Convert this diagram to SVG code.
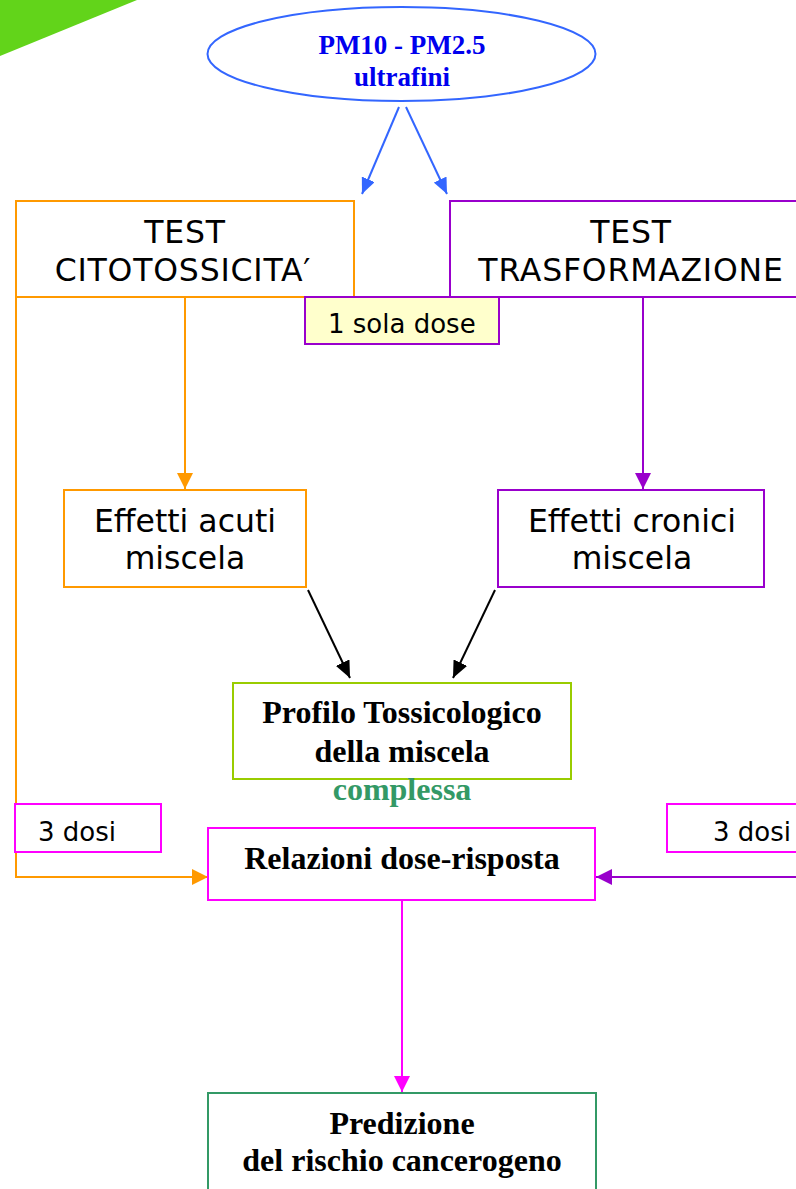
<svg xmlns="http://www.w3.org/2000/svg" width="796" height="1189" viewBox="0 0 796 1189">
<style>
.box{fill:#ffffff;stroke-width:2}
.sans{font-family:"DejaVu Sans",Verdana,sans-serif;fill:#000}
.serif{font-family:"Liberation Serif","Times New Roman",serif;font-weight:bold;fill:#000}
.big{font-size:31.5px}
.ttl{letter-spacing:0.8px}
.mid{font-size:26px}
.ser32{font-size:32px}
.ln{fill:none;stroke-width:2}
</style>
<defs>
<marker id="ab" viewBox="0 0 16 14" refX="16" refY="7" markerWidth="16" markerHeight="14" orient="auto" markerUnits="userSpaceOnUse"><path d="M0,0 L16,7 L0,14 z" fill="#3366ff"/></marker>
<marker id="ao" viewBox="0 0 16 16" refX="16" refY="8" markerWidth="16" markerHeight="16" orient="auto" markerUnits="userSpaceOnUse"><path d="M0,0 L16,8 L0,16 z" fill="#ff9900"/></marker>
<marker id="ap" viewBox="0 0 16 16" refX="16" refY="8" markerWidth="16" markerHeight="16" orient="auto" markerUnits="userSpaceOnUse"><path d="M0,0 L16,8 L0,16 z" fill="#9900cc"/></marker>
<marker id="ak" viewBox="0 0 17 15" refX="17" refY="7.5" markerWidth="17" markerHeight="15" orient="auto" markerUnits="userSpaceOnUse"><path d="M0,0 L17,7.5 L0,15 z" fill="#000"/></marker>
<marker id="am" viewBox="0 0 16 16" refX="16" refY="8" markerWidth="16" markerHeight="16" orient="auto" markerUnits="userSpaceOnUse"><path d="M0,0 L16,8 L0,16 z" fill="#ff00ff"/></marker>
</defs>
<polygon points="0,0 137,0 0,56" fill="#62d41a"/>
<g id="connectors">
<line class="ln" x1="399" y1="107" x2="362" y2="194" stroke="#3366ff" marker-end="url(#ab)"/>
<line class="ln" x1="406" y1="107" x2="447" y2="194" stroke="#3366ff" marker-end="url(#ab)"/>
<line class="ln" x1="185" y1="297" x2="185" y2="489" stroke="#ff9900" marker-end="url(#ao)"/>
<polyline class="ln" points="16,297 16,877 208,877" stroke="#ff9900" marker-end="url(#ao)"/>
<line class="ln" x1="643" y1="297" x2="643" y2="489" stroke="#9900cc" marker-end="url(#ap)"/>
<line class="ln" x1="800" y1="877" x2="596" y2="877" stroke="#9900cc" marker-end="url(#ap)"/>
<line class="ln" x1="308" y1="590" x2="350" y2="678" stroke="#000" marker-end="url(#ak)"/>
<line class="ln" x1="495" y1="590" x2="453" y2="678" stroke="#000" marker-end="url(#ak)"/>
<line class="ln" x1="402" y1="900" x2="402" y2="1092" stroke="#ff00ff" marker-end="url(#am)"/>
</g>
<g id="pm">
<ellipse cx="401.5" cy="54" rx="194" ry="47" fill="#fff" stroke="#3366ff" stroke-width="2"/>
<text class="serif" x="402" y="54" font-size="27" text-anchor="middle" style="fill:#0000ee">PM10 - PM2.5</text>
<text class="serif" x="402" y="86" font-size="27" text-anchor="middle" style="fill:#0000ee">ultrafini</text>
</g>
<g id="citotossicita">
<rect class="box" x="16" y="201" width="338" height="96" stroke="#ff9900"/>
<text class="sans big ttl" x="185" y="243" text-anchor="middle">TEST</text>
<text class="sans big ttl" x="183" y="281" text-anchor="middle">CITOTOSSICITA′</text>
</g>
<g id="trasformazione">
<rect class="box" x="450" y="201" width="360" height="96" stroke="#9900cc"/>
<text class="sans big ttl" x="631" y="243" text-anchor="middle">TEST</text>
<text class="sans big ttl" x="631" y="281" text-anchor="middle">TRASFORMAZIONE</text>
</g>
<g id="sola-dose">
<rect x="305" y="297" width="194" height="47" fill="#ffffcc" stroke="#9900cc" stroke-width="2"/>
<text class="sans mid" x="328" y="333">1 sola dose</text>
</g>
<g id="acuti">
<rect class="box" x="64" y="490" width="242" height="97" stroke="#ff9900"/>
<text class="sans big" x="185" y="532" text-anchor="middle">Effetti acuti</text>
<text class="sans big" x="185" y="569" text-anchor="middle">miscela</text>
</g>
<g id="cronici">
<rect class="box" x="498" y="490" width="266" height="97" stroke="#9900cc"/>
<text class="sans big" x="632" y="532" text-anchor="middle">Effetti cronici</text>
<text class="sans big" x="632" y="569" text-anchor="middle">miscela</text>
</g>
<g id="profilo">
<rect class="box" x="233" y="683" width="338" height="96" stroke="#99cc00"/>
<text class="serif ser32" x="402" y="723" text-anchor="middle">Profilo Tossicologico</text>
<text class="serif ser32" x="402" y="762" text-anchor="middle">della miscela</text>
<text class="serif ser32" x="402" y="800" text-anchor="middle" style="fill:#339966">complessa</text>
</g>
<g id="dosi-left">
<rect class="box" x="15" y="804" width="146" height="48" stroke="#ff00ff"/>
<text class="sans mid" x="38" y="841">3 dosi</text>
</g>
<g id="dosi-right">
<rect class="box" x="667" y="804" width="140" height="48" stroke="#ff00ff"/>
<text class="sans mid" x="713" y="841">3 dosi</text>
</g>
<g id="relazioni">
<rect class="box" x="208" y="828" width="387" height="72" stroke="#ff00ff"/>
<text class="serif ser32" x="402" y="869" text-anchor="middle">Relazioni dose-risposta</text>
</g>
<g id="predizione">
<rect class="box" x="208" y="1093" width="388" height="110" stroke="#339966"/>
<text class="serif ser32" x="402" y="1134" text-anchor="middle">Predizione</text>
<text class="serif ser32" x="402" y="1171" text-anchor="middle">del rischio cancerogeno</text>
</g>
</svg>
